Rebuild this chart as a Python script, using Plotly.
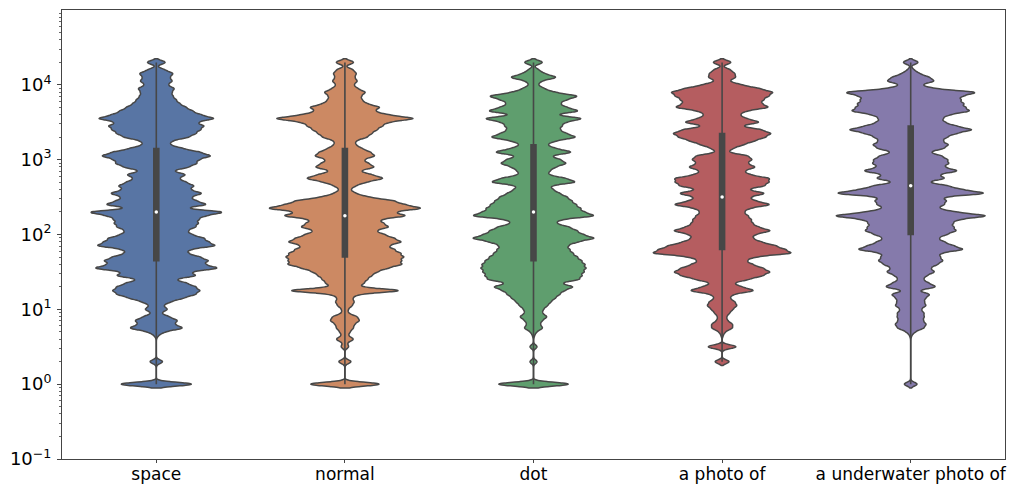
import numpy as np
import plotly.graph_objects as go

# Prompt categories on the x axis
CATEGORIES = ["space", "normal", "dot", "a photo of", "a underwater photo of"]

# Bin centres (log10 of the value) shared by all five distributions
LOG10_LEVELS = [
    0.00, 0.05, 0.10, 0.15, 0.20, 0.25, 0.30, 0.35, 0.40, 0.45,
    0.50, 0.55, 0.60, 0.65, 0.70, 0.75, 0.80, 0.85, 0.90, 0.95,
    1.00, 1.05, 1.10, 1.15, 1.20, 1.25, 1.30, 1.35, 1.40, 1.45,
    1.50, 1.55, 1.60, 1.65, 1.70, 1.75, 1.80, 1.85, 1.90, 1.95,
    2.00, 2.05, 2.10, 2.15, 2.20, 2.25, 2.30, 2.35, 2.40, 2.45,
    2.50, 2.55, 2.60, 2.65, 2.70, 2.75, 2.80, 2.85, 2.90, 2.95,
    3.00, 3.05, 3.10, 3.15, 3.20, 3.25, 3.30, 3.35, 3.40, 3.45,
    3.50, 3.55, 3.60, 3.65, 3.70, 3.75, 3.80, 3.85, 3.90, 3.95,
    4.00, 4.05, 4.10, 4.15, 4.20, 4.25, 4.30,
]

# Number of observations per bin, one list per category
SPACE_COUNTS = [
    40, 0, 0, 0, 0, 0, 7, 0, 0, 0,
    0, 0, 0, 2, 8, 26, 16, 20, 12, 4,
    11, 6, 13, 25, 36, 40, 36, 28, 16, 38,
    30, 59, 43, 48, 40, 28, 30, 56, 47, 44,
    32, 28, 36, 38, 38, 44, 65, 24, 48, 36,
    31, 43, 30, 35, 27, 20, 28, 14, 30, 37,
    38, 51, 40, 24, 12, 14, 30, 36, 40, 44,
    36, 55, 40, 33, 27, 21, 18, 15, 14, 17,
    10, 15, 12, 16, 8, 0, 10,
]
NORMAL_COUNTS = [
    40, 0, 0, 0, 0, 0, 7, 0, 0, 0,
    4, 2, 9, 3, 5, 8, 9, 14, 12, 3,
    3, 7, 9, 7, 12, 59, 13, 18, 21, 25,
    30, 40, 54, 52, 55, 52, 46, 40, 54, 46,
    37, 28, 42, 36, 32, 60, 44, 75, 55, 47,
    22, 10, 5, 10, 20, 38, 25, 13, 29, 22,
    17, 29, 24, 16, 10, 10, 21, 25, 30, 35,
    40, 69, 40, 27, 34, 20, 16, 15, 20, 12,
    8, 12, 9, 11, 8, 0, 10,
]
DOT_COUNTS = [
    40, 0, 0, 0, 0, 0, 4, 0, 0, 0,
    4, 0, 0, 1, 3, 9, 6, 8, 13, 8,
    9, 13, 16, 20, 24, 28, 38, 24, 43, 44,
    46, 48, 47, 44, 40, 36, 33, 31, 40, 58,
    45, 40, 33, 20, 25, 59, 46, 43, 39, 35,
    31, 24, 18, 15, 41, 30, 13, 15, 20, 31,
    25, 15, 38, 20, 12, 20, 41, 30, 24, 26,
    29, 48, 18, 44, 30, 24, 30, 43, 19, 10,
    4, 7, 23, 10, 5, 0, 10,
]
PHOTO_COUNTS = [
    0, 0, 0, 0, 0, 0, 8, 0, 0, 0,
    16, 0, 0, 1, 3, 10, 10, 5, 4, 7,
    10, 14, 12, 7, 10, 32, 18, 10, 25, 38,
    45, 38, 28, 22, 30, 67, 58, 50, 36, 28,
    30, 47, 33, 28, 27, 24, 20, 25, 47, 30,
    25, 42, 22, 40, 43, 45, 25, 20, 32, 23,
    28, 25, 5, 10, 20, 30, 40, 46, 37, 16,
    37, 22, 16, 22, 45, 36, 38, 43, 48, 35,
    18, 6, 13, 12, 8, 0, 10,
]
UNDERWATER_COUNTS = [
    7, 0, 0, 0, 0, 0, 0, 0, 0, 0,
    0, 0, 0, 1, 4, 12, 14, 11, 12, 12,
    9, 14, 12, 13, 18, 6, 24, 16, 11, 14,
    22, 17, 24, 29, 26, 26, 49, 38, 30, 24,
    32, 41, 38, 37, 42, 72, 40, 24, 30, 32,
    28, 71, 45, 34, 14, 32, 24, 44, 29, 34,
    33, 28, 16, 30, 34, 28, 32, 40, 57, 40,
    30, 28, 34, 54, 48, 47, 44, 45, 62, 20,
    9, 22, 17, 8, 3, 0, 8,
]

# Decade ticks (log10 positions) and their labels
Y_DECADES = [-1, 0, 1, 2, 3, 4]
Y_TICK_TEXT = ["10<sup>\u22121</sup>", "10<sup>0</sup>", "10<sup>1</sup>",
               "10<sup>2</sup>", "10<sup>3</sup>", "10<sup>4</sup>"]

# Styling
COLORS = ["#5875A4", "#CC8963", "#5F9E6E", "#B55D60", "#857AAB"]
VIOLIN_WIDTHS = [0.69, 0.80, 0.64, 0.73, 0.79]
EDGE = "#474747"
BOX_PX = 5.0
CATEGORY_PX = 189.0

ALL_COUNTS = [SPACE_COUNTS, NORMAL_COUNTS, DOT_COUNTS, PHOTO_COUNTS, UNDERWATER_COUNTS]
log_levels = np.array(LOG10_LEVELS)

fig = go.Figure()
for name, counts, color, w in zip(CATEGORIES, ALL_COUNTS, COLORS, VIOLIN_WIDTHS):
    # observations expressed as log10(value); the axis is labelled in decades
    log_values = np.repeat(log_levels, counts)
    fig.add_trace(go.Violin(
        x=[name] * len(log_values),
        y=log_values,
        name=name,
        fillcolor=color,
        opacity=1,
        line=dict(color=EDGE, width=1.5),
        width=w,
        bandwidth=0.025,
        spanmode="soft",
        scalemode="width",
        points=False,
        box=dict(visible=True, width=BOX_PX / (w * CATEGORY_PX),
                 fillcolor=EDGE, line=dict(color=EDGE, width=1.6)),
        meanline=dict(visible=False),
        hoverinfo="skip",
        showlegend=False,
    ))
    # white dot at the median
    fig.add_trace(go.Scatter(
        x=[name], y=[float(np.median(log_values))], mode="markers",
        marker=dict(color="white", size=3.5, line=dict(width=0)),
        hoverinfo="skip", showlegend=False,
    ))

# minor ticks at 2..9 times each decade
minor_vals = [d + np.log10(m) for d in range(-1, 5) for m in range(2, 10)]

fig.update_layout(
    template="none",
    width=1021, height=486,
    margin=dict(l=62, r=16, t=10, b=27),
    paper_bgcolor="white", plot_bgcolor="white",
    font=dict(family="DejaVu Sans", size=17, color="black"),
    showlegend=False,
    violinmode="overlay",
)
fig.update_xaxes(
    type="category", categoryorder="array", categoryarray=CATEGORIES,
    range=[-0.5, 4.5], automargin=False,
    showline=True, mirror=True, linecolor="#444444", linewidth=1,
    ticks="outside", ticklen=3, tickwidth=1, tickcolor="#444444",
    ticklabelstandoff=-3,
    showgrid=False, zeroline=False,
)
fig.update_yaxes(
    type="linear", range=[-1, 5], automargin=False,
    tickmode="array", tickvals=Y_DECADES, ticktext=Y_TICK_TEXT,
    tickfont=dict(size=18), ticklabelstandoff=2,
    showline=True, mirror=True, linecolor="#444444", linewidth=1,
    ticks="outside", ticklen=4, tickwidth=1, tickcolor="#444444",
    minor=dict(ticks="outside", ticklen=2, tickwidth=0.8, tickcolor="#666666",
               tickmode="array", tickvals=minor_vals, showgrid=False),
    showgrid=False, zeroline=False,
)

fig.write_html("out.html")
